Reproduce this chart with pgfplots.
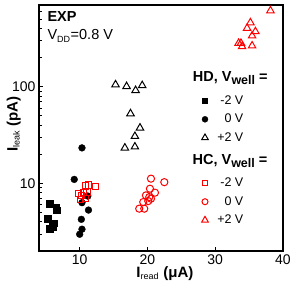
\documentclass[border=0pt]{standalone}
\usepackage{fontspec}
\setmainfont{Liberation Sans}
\usepackage{pgfplots}
\usepackage{pgfplotstable}
\pgfplotsset{compat=1.18}

\pgfplotstableread{
x y
5.56 6.17
6.5 5.6
6.6 5.3
5.26 4.33
6.15 3.87
5.56 3.41
6.0 3.58
}\hdm
\pgfplotstableread{
x y
10.34 23.3
9.2 11.0
10.34 6.32
11.3 5.3
11.2 7.4
10.25 4.25
10.34 3.36
10.0 2.98
}\hdz
\pgfplotstableread{
x y
15.29 105
16.92 100.7
18.25 91.6
19.23 103
17.5 52.7
18.9 37.5
18.15 30.7
16.67 23.3
18.15 23.9
}\hdp
\pgfplotstableread{
x y
10.84 9.38
11.33 9.6
12.33 9.25
9.85 7.89
10.6 8.02
11.1 8.13
10.1 6.84
10.84 6.95
10.25 7.52
}\hcm
\pgfplotstableread{
x y
20.52 11.2
22.49 10.3
20.37 8.81
21.11 8.02
19.78 7.52
20.52 6.95
19.38 6.41
20.12 6.57
18.79 5.48
19.53 5.48
20.27 7.22
}\hcz
\pgfplotstableread{
x y
38.15 612
35.19 460
34.7 403
35.93 372
35.44 336
33.45 282
33.96 260
35.44 265
33.8 282
}\hcp

\begin{document}
\begin{tikzpicture}
\begin{axis}[width=244pt, height=246pt, scale only axis,
  ymode=log, xmin=4, xmax=40, ymin=2, ymax=700,
  axis line style={line width=1.1pt},
  tick pos=left, tick align=inside,
  major tick length=4pt, minor tick length=2.5pt,
  tick style={black, line width=0.8pt},
  xtick={10,20,30,40},
  ytick={10,100}, yticklabels={10,100},
  minor ytick={2,3,4,5,6,7,8,9,20,30,40,50,60,70,80,90,200,300,400,500,600,700},
  /pgf/number format/assume math mode=true,
  tick label style={font=\fontsize{14}{14}\selectfont},
  xlabel={\textbf{I}\textsubscript{\fontsize{9}{9}\selectfont read}\textbf{ (μA)}},
  ylabel={\textbf{I}\textsubscript{\fontsize{9}{9}\selectfont leak}\textbf{ (pA)}},
  label style={font=\fontsize{15}{15}\selectfont},
  xlabel style={at={(axis description cs:0.516,-0.106)}, anchor=base},
  ylabel style={at={(axis description cs:-0.088,0.516)}, anchor=base},
  legend cell align=right,
  legend style={draw=none, fill=none, inner sep=0pt, row sep=4.2pt, column sep=7pt,
      font=\fontsize{12.5}{13}\selectfont, anchor=north west,
      at={(axis description cs:0.666,0.64)}},
]
\addplot[only marks, mark=square*, mark size=3.2pt, black, forget plot] table {\hdm};
\addplot[only marks, mark=*, mark size=3.4pt, black, forget plot] table {\hdz};
\addplot[only marks, mark=triangle, mark size=4.3pt, black, line width=1pt, forget plot] table {\hdp};
\addlegendimage{only marks, mark=square*, mark size=2.6pt, black}
\addlegendentry{-2 V}
\addlegendimage{only marks, mark=*, mark size=3pt, black}
\addlegendentry{0 V}
\addlegendimage{only marks, mark=triangle, mark size=3.8pt, black, line width=1pt}
\addlegendentry{+2 V}
\node[anchor=base west, font=\bfseries\fontsize{14.5}{15}\selectfont] at (axis description cs:0.0205,0.931) {EXP};
\node[anchor=base west, font=\fontsize{14.5}{15}\selectfont] at (axis description cs:0.0205,0.858) {V\textsubscript{\fontsize{9}{9}\selectfont DD}=0.8 V};
\node[anchor=base west, font=\bfseries\fontsize{14.5}{15}\selectfont] at (axis description cs:0.616,0.688) {HD, V\raisebox{-3pt}{\fontsize{12.5}{13}\selectfont well} =};
\node[anchor=base west, font=\bfseries\fontsize{14.5}{15}\selectfont] at (axis description cs:0.615,0.35) {HC, V\raisebox{-3pt}{\fontsize{12.5}{13}\selectfont well} =};
\end{axis}
\begin{axis}[width=244pt, height=246pt, scale only axis,
  ymode=log, xmin=4, xmax=40, ymin=2, ymax=700, hide axis,
  legend cell align=right,
  legend style={draw=none, fill=none, inner sep=0pt, row sep=4.2pt, column sep=7pt,
      font=\fontsize{12.5}{13}\selectfont, anchor=north west,
      at={(axis description cs:0.666,0.305)}},
]
\addplot[only marks, mark=square, mark size=3.2pt, red, line width=1pt, forget plot] table {\hcm};
\addplot[only marks, mark=o, mark size=3.6pt, red, line width=1pt, forget plot] table {\hcz};
\addplot[only marks, mark=triangle, mark size=4.3pt, red, line width=1pt, forget plot] table {\hcp};
\addlegendimage{only marks, mark=square, mark size=2.6pt, red, line width=1pt}
\addlegendentry{-2 V}
\addlegendimage{only marks, mark=o, mark size=3pt, red, line width=1pt}
\addlegendentry{0 V}
\addlegendimage{only marks, mark=triangle, mark size=3.8pt, red, line width=1pt}
\addlegendentry{+2 V}
\coordinate (SW) at (rel axis cs:0,0);
\coordinate (NE) at (rel axis cs:1,1);
\end{axis}
\pgfresetboundingbox
\path[use as bounding box] ([shift={(-39pt,-35pt)}]SW) rectangle ([shift={(11pt,5pt)}]NE);
\end{tikzpicture}
\end{document}
